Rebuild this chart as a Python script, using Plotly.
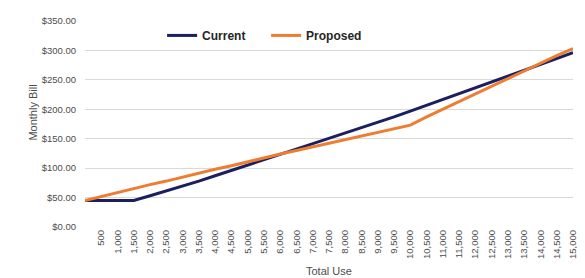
import plotly.graph_objects as go

# Data
usage = [0, 500, 1000, 1500, 2000, 2500, 3000, 3500, 4000, 4500, 5000, 5500, 6000,
         6500, 7000, 7500, 8000, 8500, 9000, 9500, 10000, 10500, 11000, 11500,
         12000, 12500, 13000, 13500, 14000, 14500, 15000]
current = [45, 45, 45, 45, 53, 61, 69, 78, 87, 96, 105, 114, 123, 132, 141, 150,
           159, 168, 178, 187, 197, 207, 217, 227, 237, 246, 256, 266, 276, 286, 296]
proposed = [45, 52, 59, 66, 72, 78, 85, 91, 98, 104, 111, 117, 124, 130, 136, 142,
            148, 154, 161, 167, 173, 187, 200, 213, 226, 240, 253, 266, 278, 291, 303]
tick_values = usage[1:]
tick_labels = [f"{v:,}" for v in tick_values]
y_ticks = [0, 50, 100, 150, 200, 250, 300, 350]

NAVY = "#1c1f5e"
ORANGE = "#ed7d31"
GREY = "#4d4d4d"
FONT = "Liberation Sans"

fig = go.Figure()
fig.add_trace(go.Scatter(x=usage, y=current, mode="lines", name="Current",
                         line=dict(color=NAVY, width=3)))
fig.add_trace(go.Scatter(x=usage, y=proposed, mode="lines", name="Proposed",
                         line=dict(color=ORANGE, width=3)))

# page body adds an 8px margin, so the figure is sized to fit the 585x278 window
fig.update_layout(
    width=577, height=270,
    margin=dict(l=77, r=7, t=11, b=51),
    paper_bgcolor="white", plot_bgcolor="white",
    font=dict(family=FONT, color=GREY, size=9),
    showlegend=True,
    legend=dict(orientation="h", x=0.158, y=0.93, xanchor="left", yanchor="middle",
                font=dict(family=FONT, size=12, color="#262626", weight="bold"),
                entrywidth=59, entrywidthmode="pixels",
                bgcolor="rgba(0,0,0,0)", traceorder="normal"),
    xaxis=dict(type="linear", range=[0, 15000], tickmode="array",
               tickvals=tick_values, ticktext=tick_labels, tickangle=-90,
               showgrid=False, zeroline=False, showline=False, ticks="",
               tickfont=dict(family=FONT, size=9.5, color=GREY), fixedrange=True),
    yaxis=dict(range=[0, 350], tickmode="array", tickvals=y_ticks,
               tickformat="$,.2f", showgrid=True, gridcolor="#d9d9d9", gridwidth=1,
               zeroline=False, showline=False, ticks="",
               tickfont=dict(family=FONT, size=9.5, color=GREY),
               ticklabelstandoff=8, fixedrange=True),
    annotations=[
        dict(text="Monthly Bill", xref="paper", yref="paper", x=-0.1055, y=0.553,
             textangle=-90, showarrow=False, xanchor="center", yanchor="middle",
             font=dict(family=FONT, size=11, color=GREY)),
        dict(text="Total Use", xref="paper", yref="paper", x=0.5, y=-0.212,
             showarrow=False, xanchor="center", yanchor="middle",
             font=dict(family=FONT, size=11, color=GREY)),
    ],
)

fig.write_html("out.html")
